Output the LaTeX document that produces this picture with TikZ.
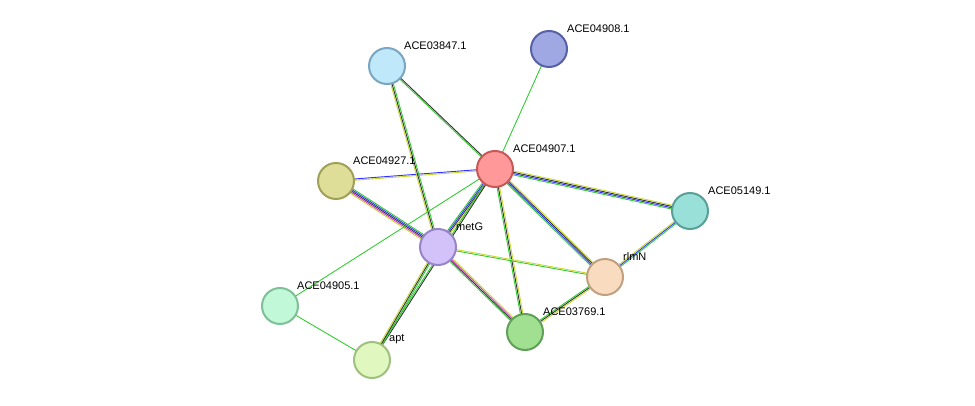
\documentclass[tikz,border=0pt]{standalone}
\usepackage{fontspec}
\setmainfont{Liberation Sans}
\usetikzlibrary{calc}
\definecolor{eg}{HTML}{33CC33}
\definecolor{ey}{HTML}{C8D832}
\definecolor{eb}{HTML}{3333FF}
\definecolor{ek}{HTML}{333333}
\definecolor{em}{HTML}{DD33DD}
% multi-colour edge: \edge{from}{to}{colours}
\newcommand{\edge}[3]{%
  \foreach \c [count=\i] in {#3} {\global\let\edgen\i}%
  \foreach \c [count=\i] in {#3} {%
    \pgfmathsetmacro{\off}{(\i-(\edgen+1)/2)*1.3}
    \draw[line width=0.9pt,\c] ($(#1)!\off pt!90:(#2)$) -- ($(#2)!\off pt!-90:(#1)$);
  }}
\begin{document}
\begin{tikzpicture}[x=1pt,y=-1pt]
  %define node styles
  \tikzset{
    prot/.style={circle, minimum size=36pt, inner sep=0pt, line width=2pt},
    lab/.style={anchor=south west, font=\fontsize{11}{12}\selectfont, inner sep=1pt},
  }
  \useasboundingbox (0,0) rectangle (975,406);
  %define edges
  \edge{387,66}{495,169}{eg,ek}
  \edge{549,49}{495,169}{eg}
  \edge{336,181}{495,169}{ey,eb}
  \edge{336,181}{438,247}{ey,em,ek,eb,eg}
  \edge{387,66}{438,247}{ey,ek,eg}
  \edge{495,169}{438,247}{eg,eb,ek,ey}
  \edge{495,169}{280,306}{eg}
  \edge{495,169}{690,211}{eg,eb,ek,ey}
  \edge{495,169}{605,277}{eg,eb,ek,ey}
  \edge{495,169}{525,332}{eg,ek,ey}
  \edge{495,169}{372,360}{eg,ek}
  \edge{438,247}{372,360}{ey,ek,eg}
  \edge{438,247}{605,277}{eg,ey}
  \edge{438,247}{525,332}{eg,ek,em,ey}
  \edge{605,277}{525,332}{eg,ek,ey}
  \edge{605,277}{690,211}{eg,eb,ey}
  \edge{280,306}{372,360}{eg}
  %define nodes
  \node[prot, draw={rgb,255:red,123;green,166;blue,195}, fill={rgb,255:red,192;green,232;blue,251}] (a03847) at (387,66) {};
  \node[prot, draw={rgb,255:red,88;green,96;blue,168}, fill={rgb,255:red,160;green,168;blue,227}] (a04908) at (549,49) {};
  \node[prot, draw={rgb,255:red,200;green,88;blue,88}, fill={rgb,255:red,255;green,153;blue,153}] (a04907) at (495,169) {};
  \node[prot, draw={rgb,255:red,160;green,160;blue,88}, fill={rgb,255:red,222;green,222;blue,153}] (a04927) at (336,181) {};
  \node[prot, draw={rgb,255:red,88;green,160;blue,152}, fill={rgb,255:red,153;green,224;blue,216}] (a05149) at (690,211) {};
  \node[prot, draw={rgb,255:red,152;green,132;blue,200}, fill={rgb,255:red,211;green,194;blue,250}] (metG) at (438,247) {};
  \node[prot, draw={rgb,255:red,192;green,160;blue,128}, fill={rgb,255:red,249;green,220;blue,192}] (rlmN) at (605,277) {};
  \node[prot, draw={rgb,255:red,128;green,192;blue,152}, fill={rgb,255:red,192;green,248;blue,216}] (a04905) at (280,306) {};
  \node[prot, draw={rgb,255:red,96;green,160;blue,88}, fill={rgb,255:red,160;green,224;blue,144}] (a03769) at (525,332) {};
  \node[prot, draw={rgb,255:red,160;green,192;blue,128}, fill={rgb,255:red,224;green,248;blue,192}] (apt) at (372,360) {};
  %define labels
  \node[lab] at (403,51) {ACE03847.1};
  \node[lab] at (566,34) {ACE04908.1};
  \node[lab] at (512,154) {ACE04907.1};
  \node[lab] at (352,166) {ACE04927.1};
  \node[lab] at (707,196) {ACE05149.1};
  \node[lab] at (455,232) {metG};
  \node[lab] at (622,262) {rlmN};
  \node[lab] at (296,291) {ACE04905.1};
  \node[lab] at (542,317) {ACE03769.1};
  \node[lab] at (388,345) {apt};
\end{tikzpicture}
\end{document}
